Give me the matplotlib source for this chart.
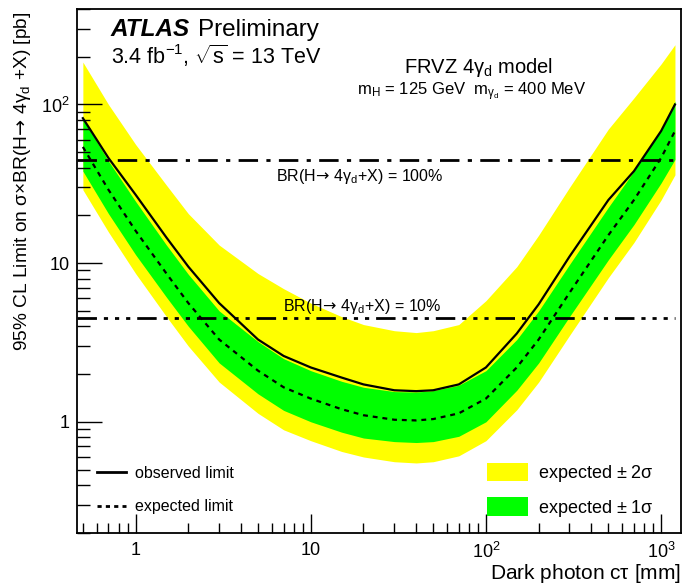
import numpy as np
import matplotlib
matplotlib.use("Agg")
import matplotlib.pyplot as plt
from matplotlib.patches import Patch
from matplotlib.lines import Line2D

plt.rcParams['font.family'] = ['Liberation Sans', 'DejaVu Sans']
plt.rcParams['mathtext.fontset'] = 'custom'
plt.rcParams['mathtext.rm'] = 'Liberation Sans'
plt.rcParams['mathtext.it'] = 'Liberation Sans'
plt.rcParams['mathtext.bf'] = 'Liberation Sans:bold'
plt.rcParams['mathtext.sf'] = 'DejaVu Sans'

# dark photon c*tau [mm]
ctau = [0.5, 0.7, 1.0, 1.5, 2.0, 3.0, 5.0, 7.0, 10, 15, 20, 30, 40, 50,
        70, 100, 150, 200, 300, 500, 700, 1000, 1200]
observed = [82, 46, 27, 14.5, 9.5, 5.6, 3.3, 2.6, 2.2, 1.9, 1.72, 1.58, 1.56, 1.58,
            1.72, 2.2, 3.6, 5.5, 11, 25, 38, 68, 100]
expected = [54, 29, 16, 8.6, 5.6, 3.3, 2.1, 1.65, 1.4, 1.2, 1.1, 1.03, 1.02, 1.04,
            1.13, 1.4, 2.2, 3.3, 6.5, 15, 25, 46, 68]
one_sig_up = [81, 44, 24.5, 13, 8.5, 5.0, 3.2, 2.5, 2.1, 1.8, 1.65, 1.55, 1.54, 1.57,
              1.7, 2.1, 3.3, 5.0, 9.8, 22.5, 38, 70, 105]
one_sig_dn = [38, 20.5, 11.3, 6.1, 4.0, 2.35, 1.5, 1.18, 1.0, 0.86, 0.79, 0.75, 0.74, 0.75,
              0.81, 1.0, 1.58, 2.35, 4.6, 10.5, 17.5, 32, 45]
two_sig_up = [185, 100, 56, 31, 20.5, 13, 8.6, 6.9, 5.6, 4.6, 4.1, 3.75, 3.65, 3.75,
              4.1, 5.8, 9.5, 15, 30, 70, 110, 180, 238]
two_sig_dn = [29, 15.7, 8.6, 4.6, 3.0, 1.78, 1.13, 0.89, 0.76, 0.65, 0.6, 0.56, 0.55, 0.56,
              0.61, 0.76, 1.19, 1.78, 3.5, 8.1, 13.5, 25, 36]

br100 = 44.9   # sigma(H) x BR = 100%
br10 = 4.49

fig = plt.figure(figsize=(6.82, 5.86), dpi=100)
ax = fig.add_axes([0.1122, 0.0910, 0.8864, 0.8937])

ax.fill_between(ctau, two_sig_dn, two_sig_up, color='#ffff00', lw=0)
ax.fill_between(ctau, one_sig_dn, one_sig_up, color='#00ff00', lw=0)
ax.plot(ctau, expected, color='black', lw=1.6, ls=(0, (2.2, 2.2)))
ax.plot(ctau, observed, color='black', lw=1.6)

ax.hlines(br100, 0.46, ctau[-1], color='black', lw=2.0, linestyles=[(0, (7, 3, 1.5, 3))])
ax.hlines(br10, 0.46, ctau[-1], color='black', lw=2.0,
          linestyles=[(0, (7, 2.5, 1.5, 2.5, 1.5, 2.5, 1.5, 2.5))])

ax.set_xscale('log')
ax.set_yscale('log')
ax.set_xlim(0.46, 1300)
ax.set_ylim(0.2, 400)

ax.set_xticks([1, 10, 100, 1000], ['1', '10', '$10^2$', '$10^3$'])
ax.set_yticks([1, 10, 100], ['1', '10', '$10^2$'])
ax.tick_params(which='both', direction='in', top=False, right=False, labelsize=13)
ax.tick_params(axis='x', which='major', length=14, width=1.0, pad=7)
ax.tick_params(axis='x', which='minor', length=7, width=1.0)
ax.tick_params(axis='y', which='major', length=18, width=1.0, pad=5)
ax.tick_params(axis='y', which='minor', length=9, width=1.0)
for s in ax.spines.values():
    s.set_linewidth(1.3)

arrow = r'$\!\mathsf{\rightarrow}\!$'

fig.text(681 / 682, 7 / 586, r'Dark photon c$\tau$ [mm]', fontsize=15, ha='right',
         va='baseline')
ax.set_ylabel(r'95% CL Limit on σ×BR(H' + arrow + r' 4$\gamma_d$ +X) [pb]',
              fontsize=13.8, ha='right', y=0.995, labelpad=6)

fig.text(111 / 682, 1 - 36 / 586, 'ATLAS', fontsize=17.5, fontweight='bold', style='italic',
         va='baseline')
fig.text(198 / 682, 1 - 36 / 586, 'Preliminary', fontsize=17.5, va='baseline')
fig.text(111 / 682, 1 - 64 / 586, r'3.4 fb$^{-1}$, $\sqrt{s}$ = 13 TeV', fontsize=15.5,
         va='baseline')
fig.text(478 / 682, 1 - 73 / 586, r'FRVZ 4$\gamma_d$ model', fontsize=14.5, va='baseline',
         ha='center')
fig.text(472 / 682, 1 - 95 / 586, r'm$_H$ = 125 GeV  m$_{\gamma_d}$ = 400 MeV', fontsize=12,
         va='baseline', ha='center')
fig.text(360 / 682, 1 - 181 / 586, r'BR(H' + arrow + r' 4$\gamma_d$+X) = 100%',
         fontsize=11.5, va='baseline', ha='center')
fig.text(362 / 682, 1 - 311 / 586, r'BR(H' + arrow + r' 4$\gamma_d$+X) = 10%',
         fontsize=11.5, va='baseline', ha='center')

leg1 = ax.legend(handles=[Line2D([], [], color='black', lw=2),
                          Line2D([], [], color='black', lw=2, ls=(0, (1.5, 1.5)))],
                 labels=['observed limit', 'expected limit'],
                 loc='upper left', bbox_to_anchor=(0.01, 0.155), frameon=False,
                 fontsize=11.5, handlelength=1.8, handletextpad=0.6, labelspacing=1.15)
ax.add_artist(leg1)
ax.legend(handles=[Patch(color='#ffff00', lw=0), Patch(color='#00ff00', lw=0)],
          labels=[r'expected $\pm$ 2$\sigma$', r'expected $\pm$ 1$\sigma$'],
          loc='upper left', bbox_to_anchor=(0.652, 0.165), frameon=False,
          fontsize=13, handlelength=2.3, handleheight=1.2, handletextpad=0.55,
          labelspacing=0.75)

fig.savefig('out.png', dpi=100)
